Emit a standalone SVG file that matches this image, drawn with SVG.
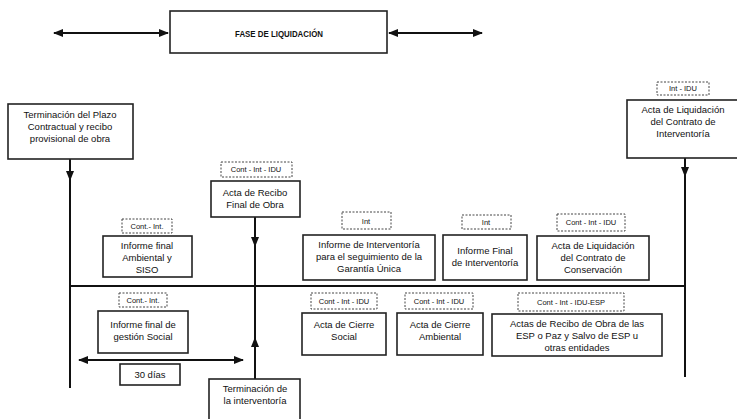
<svg xmlns="http://www.w3.org/2000/svg" width="737" height="419" viewBox="0 0 737 419">
<style>
.box{fill:#fff;stroke:#222;stroke-width:1.6}
.lbl{fill:#fff;stroke:#444;stroke-width:1;stroke-dasharray:2,1.5}
.t{font-family:"Liberation Sans",Arial,sans-serif;font-size:9.5px;fill:#111;text-anchor:middle}
.s{font-family:"Liberation Sans",Arial,sans-serif;font-size:7.5px;fill:#111;text-anchor:middle}
.ln{stroke:#111;stroke-width:2;fill:none}
</style>
<defs>
<marker id="ah" viewBox="0 0 10 10" refX="9" refY="5" markerWidth="5" markerHeight="5" orient="auto-start-reverse">
<path d="M0,1 L10,5 L0,9 z" fill="#111"/>
</marker>
</defs>
<g id="connectors">
<line class="ln" x1="54" y1="33" x2="168" y2="33" marker-start="url(#ah)" marker-end="url(#ah)"/>
<line class="ln" x1="389" y1="33" x2="482" y2="33" marker-start="url(#ah)" marker-end="url(#ah)"/>
<line class="ln" x1="69" y1="286" x2="685" y2="286" stroke-width="2.5"/>
<line class="ln" x1="70" y1="159" x2="70" y2="180" marker-end="url(#ah)"/>
<line class="ln" x1="70" y1="178" x2="70" y2="388"/>
<line class="ln" x1="685" y1="158" x2="685" y2="176" marker-end="url(#ah)"/>
<line class="ln" x1="685" y1="174" x2="685" y2="377"/>
<line class="ln" x1="255" y1="217" x2="255" y2="246" marker-end="url(#ah)"/>
<line class="ln" x1="255" y1="244" x2="255" y2="340"/>
<line class="ln" x1="255" y1="379" x2="255" y2="338" marker-end="url(#ah)"/>
<line class="ln" x1="79" y1="360" x2="243" y2="360" marker-start="url(#ah)" marker-end="url(#ah)"/>
</g>
<g id="title">
<rect class="box" x="170" y="11" width="217" height="42"/>
<text class="t" x="279" y="37" font-weight="bold" font-size="11" textLength="88" lengthAdjust="spacingAndGlyphs">FASE DE LIQUIDACIÓN</text>
</g>
<g id="n-terminacion-plazo">
<rect class="box" x="8" y="104" width="125" height="55"/>
<text class="t" x="70" y="118">Terminación del Plazo</text>
<text class="t" x="70" y="130">Contractual y recibo</text>
<text class="t" x="70" y="142">provisional de obra</text>
</g>
<g id="n-acta-liq-interv">
<rect class="lbl" x="657" y="82" width="52" height="13"/>
<text class="s" x="683" y="91">Int - IDU</text>
<rect class="box" x="627" y="100" width="112" height="58"/>
<text class="t" x="683" y="113">Acta de Liquidación</text>
<text class="t" x="683" y="125">del Contrato de</text>
<text class="t" x="683" y="137">Interventoría</text>
</g>
<g id="n-acta-recibo-final">
<rect class="lbl" x="221" y="162" width="71" height="15"/>
<text class="s" x="256" y="172">Cont - Int - IDU</text>
<rect class="box" x="211" y="181" width="89" height="36"/>
<text class="t" x="255" y="196">Acta de Recibo</text>
<text class="t" x="255" y="208">Final de Obra</text>
</g>
<g id="n-informe-ambiental">
<rect class="lbl" x="122" y="219" width="50" height="14"/>
<text class="s" x="147" y="229">Cont.- Int.</text>
<rect class="box" x="103" y="236" width="89" height="41"/>
<text class="t" x="147" y="249">Informe final</text>
<text class="t" x="147" y="261">Ambiental y</text>
<text class="t" x="147" y="273">SISO</text>
</g>
<g id="n-informe-garantia">
<rect class="lbl" x="342" y="212" width="49" height="17"/>
<text class="s" x="366" y="224">Int</text>
<rect class="box" x="303" y="235" width="132" height="45"/>
<text class="t" x="369" y="248">Informe de Interventoría</text>
<text class="t" x="369" y="260">para el seguimiento de la</text>
<text class="t" x="369" y="272">Garantía Única</text>
</g>
<g id="n-informe-final-interv">
<rect class="lbl" x="462" y="215" width="49" height="14"/>
<text class="s" x="486" y="225">Int</text>
<rect class="box" x="443" y="235" width="84" height="45"/>
<text class="t" x="485" y="254">Informe Final</text>
<text class="t" x="485" y="266">de Interventoría</text>
</g>
<g id="n-acta-liq-conservacion">
<rect class="lbl" x="557" y="214" width="68" height="17"/>
<text class="s" x="591" y="225">Cont - Int - IDU</text>
<rect class="box" x="537" y="236" width="112" height="44"/>
<text class="t" x="593" y="249">Acta de Liquidación</text>
<text class="t" x="593" y="261">del Contrato de</text>
<text class="t" x="593" y="273">Conservación</text>
</g>
<g id="n-informe-social">
<rect class="lbl" x="119" y="293" width="48" height="14"/>
<text class="s" x="143" y="303">Cont.- Int.</text>
<rect class="box" x="98" y="311" width="90" height="42"/>
<text class="t" x="143" y="328">Informe final de</text>
<text class="t" x="143" y="340">gestión Social</text>
</g>
<g id="n-30dias">
<rect class="box" x="120" y="364" width="60" height="21"/>
<text class="t" x="150" y="378">30 días</text>
</g>
<g id="n-cierre-social">
<rect class="lbl" x="311" y="293" width="66" height="16"/>
<text class="s" x="344" y="304">Cont - Int - IDU</text>
<rect class="box" x="302" y="313" width="84" height="42"/>
<text class="t" x="344" y="328">Acta de Cierre</text>
<text class="t" x="344" y="340">Social</text>
</g>
<g id="n-cierre-ambiental">
<rect class="lbl" x="405" y="293" width="68" height="16"/>
<text class="s" x="439" y="304">Cont - Int - IDU</text>
<rect class="box" x="397" y="313" width="86" height="42"/>
<text class="t" x="440" y="328">Acta de Cierre</text>
<text class="t" x="440" y="340">Ambiental</text>
</g>
<g id="n-actas-esp">
<rect class="lbl" x="518" y="293" width="106" height="18"/>
<text class="s" x="571" y="305">Cont - Int - IDU-ESP</text>
<rect class="box" x="492" y="314" width="170" height="42"/>
<text class="t" x="577" y="327">Actas de Recibo de Obra de las</text>
<text class="t" x="577" y="339">ESP o Paz  y Salvo de ESP u</text>
<text class="t" x="577" y="351">otras entidades</text>
</g>
<g id="n-terminacion-interv">
<rect class="box" x="209" y="379" width="91" height="44"/>
<text class="t" x="255" y="392">Terminación de</text>
<text class="t" x="255" y="404">la interventoría</text>
</g>
</svg>
